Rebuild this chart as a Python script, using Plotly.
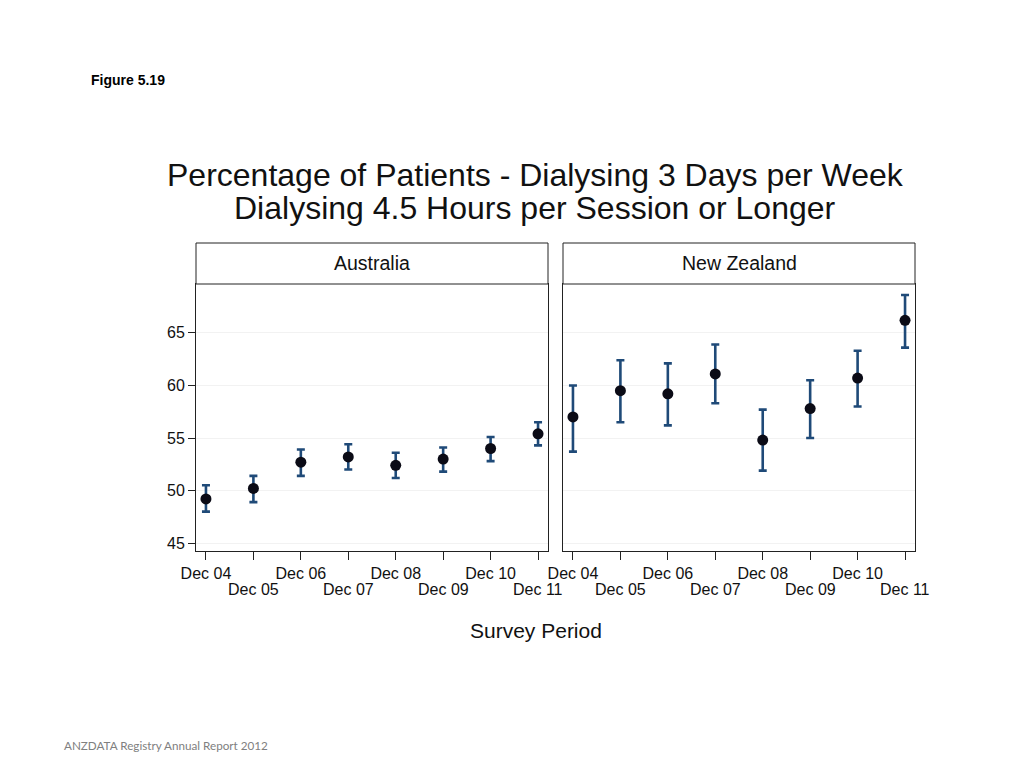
import plotly.graph_objects as go

periods = ["Dec 04", "Dec 05", "Dec 06", "Dec 07", "Dec 08", "Dec 09", "Dec 10", "Dec 11"]
panels = ["Australia", "New Zealand"]

aus_value = [49.2, 50.2, 52.7, 53.2, 52.4, 53.0, 54.0, 55.4]
aus_upper = [50.5, 51.4, 53.9, 54.4, 53.6, 54.1, 55.1, 56.5]
aus_lower = [48.0, 48.9, 51.4, 52.0, 51.2, 51.8, 52.8, 54.3]

nz_value = [57.0, 59.5, 59.2, 61.1, 54.8, 57.8, 60.7, 66.2]
nz_upper = [60.0, 62.4, 62.1, 63.9, 57.7, 60.5, 63.3, 68.6]
nz_lower = [53.7, 56.5, 56.2, 58.3, 51.9, 55.0, 58.0, 63.6]

y_ticks = [45, 50, 55, 60, 65]

title_lines = ["Percentage of Patients - Dialysing 3 Days per Week",
               "Dialysing 4.5 Hours per Session or Longer"]

W, H = 1024, 768
def px(x):
    return x / W
def py(y):
    return 1 - y / H

FONT = "Liberation Sans, Arial, Helvetica, sans-serif"
ERR_COLOR = "#1f4a78"

fig = go.Figure()
xs = list(range(len(periods)))
series = [(aus_value, aus_upper, aus_lower), (nz_value, nz_upper, nz_lower)]
for i, (v, up, lo) in enumerate(series):
    ax = "x" if i == 0 else "x2"
    ay = "y" if i == 0 else "y2"
    fig.add_trace(go.Scatter(
        x=xs, y=v, mode="markers", xaxis=ax, yaxis=ay,
        marker=dict(color="#0b0b16", size=11),
        error_y=dict(type="data", symmetric=False,
                     array=[u - m for u, m in zip(up, v)],
                     arrayminus=[m - l for m, l in zip(v, lo)],
                     color=ERR_COLOR, thickness=2.6, width=4),
        showlegend=False, name=panels[i], hoverinfo="skip",
    ))

# top row of tick labels on the axis; bottom row added as annotations
ticktext = [p if k % 2 == 0 else "" for k, p in enumerate(periods)]

dom_y = [py(551), py(284)]
dom_x1 = [px(196), px(548)]
dom_x2 = [px(563), px(915)]
xr = [-0.21, 7.21]
yr = [44.25, 69.65]

common_x = dict(range=xr, tickvals=xs, ticktext=ticktext, ticks="outside", ticklen=8,
                tickcolor="#222", tickwidth=1, showgrid=False, zeroline=False, tickangle=0,
                showline=True, linecolor="#222", linewidth=1, mirror=True, automargin=False,
                tickfont=dict(family=FONT, size=16, color="#111"))
common_y = dict(range=yr, tickvals=y_ticks, showgrid=True, gridcolor="#f2f2f2", gridwidth=1,
                zeroline=False, showline=True, linecolor="#222", linewidth=1, mirror=True,
                automargin=False, tickfont=dict(family=FONT, size=16, color="#111"))

fig.update_layout(
    width=W, height=H, margin=dict(l=0, r=0, t=0, b=0, pad=0), autosize=False,
    paper_bgcolor="white", plot_bgcolor="white",
    xaxis=dict(domain=dom_x1, anchor="y", **common_x),
    xaxis2=dict(domain=dom_x2, anchor="y2", **common_x),
    yaxis=dict(domain=dom_y, anchor="x", ticks="outside", ticklen=7, tickcolor="#222", **common_y),
    yaxis2=dict(domain=dom_y, anchor="x2", ticks="", showticklabels=False, **common_y),
)

# second row of x tick labels
for xref in ["x", "x2"]:
    for k, p in enumerate(periods):
        if k % 2 == 1:
            fig.add_annotation(xref=xref, yref="paper", x=k, y=py(589), text=p,
                               showarrow=False, xanchor="center", yanchor="middle",
                               font=dict(family=FONT, size=16, color="#111"))

# panel header boxes
for i, d in enumerate([dom_x1, dom_x2]):
    fig.add_shape(type="rect", xref="paper", yref="paper", x0=d[0], x1=d[1],
                  y0=py(284), y1=py(243), line=dict(color="#222", width=1), fillcolor="white")
    fig.add_annotation(xref="paper", yref="paper", x=(d[0] + d[1]) / 2, y=py(263.5),
                       text=panels[i], showarrow=False, xanchor="center", yanchor="middle",
                       font=dict(family=FONT, size=19.5, color="#111"))

for line, yc in zip(title_lines, [175, 208]):
    fig.add_annotation(xref="paper", yref="paper", x=px(535), y=py(yc),
                       text=line, showarrow=False, xanchor="center", yanchor="middle",
                       font=dict(family=FONT, size=32, color="#111"))

fig.add_annotation(xref="paper", yref="paper", x=px(536), y=py(630),
                   text="Survey Period", showarrow=False, xanchor="center", yanchor="middle",
                   font=dict(family=FONT, size=21, color="#111"))

fig.add_annotation(xref="paper", yref="paper", x=px(89), y=py(80),
                   text="<b>Figure 5.19</b>", showarrow=False, xanchor="left", yanchor="middle",
                   font=dict(family=FONT, size=14, color="#000"))

fig.add_annotation(xref="paper", yref="paper", x=px(62), y=py(745),
                   text="ANZDATA Registry Annual Report 2012", showarrow=False,
                   xanchor="left", yanchor="middle",
                   font=dict(family="Lato, Open Sans, sans-serif", size=11.7, color="#808080"))

fig.write_html("out.html", config={"displayModeBar": False},
               post_script="document.body.style.margin='0';document.body.style.overflow='hidden';")
